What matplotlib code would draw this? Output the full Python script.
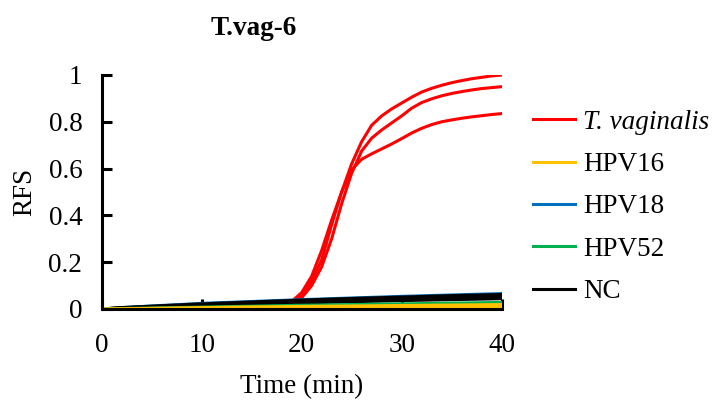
import numpy as np
import matplotlib.pyplot as plt
from matplotlib.lines import Line2D

plt.rcParams['font.family'] = ['Liberation Serif', 'DejaVu Serif']

# ====== data ======
t_pos = list(range(0, 41))
tvag_1 = [0, 0.001, 0.001, 0.002, 0.002, 0.003, 0.003, 0.004, 0.004, 0.005,
          0.005, 0.006, 0.007, 0.008, 0.009, 0.010, 0.012, 0.015, 0.020,
          0.032, 0.070, 0.14, 0.25, 0.38, 0.50, 0.62, 0.715, 0.785, 0.825, 0.855,
          0.88, 0.905, 0.927, 0.943, 0.956, 0.967, 0.976, 0.984, 0.99, 0.996, 1.0]
tvag_2 = [0, 0.001, 0.001, 0.002, 0.002, 0.003, 0.003, 0.004, 0.004, 0.005,
          0.005, 0.006, 0.007, 0.008, 0.009, 0.010, 0.012, 0.014, 0.018,
          0.026, 0.048, 0.10, 0.18, 0.30, 0.45, 0.58, 0.675, 0.73, 0.765, 0.795,
          0.825, 0.858, 0.882, 0.898, 0.911, 0.921, 0.929, 0.936, 0.942, 0.946, 0.95]
tvag_3 = [0, 0.001, 0.001, 0.002, 0.002, 0.003, 0.003, 0.004, 0.004, 0.005,
          0.005, 0.006, 0.007, 0.008, 0.009, 0.010, 0.012, 0.015, 0.019,
          0.029, 0.058, 0.12, 0.21, 0.36, 0.50, 0.595, 0.64, 0.663, 0.684, 0.705,
          0.728, 0.752, 0.772, 0.788, 0.80, 0.808, 0.815, 0.821, 0.826, 0.831, 0.835]

t_neg = [0, 2, 5, 10, 15, 20, 25, 30, 35, 40]
hpv18 = [0, 0.006, 0.013, 0.024, 0.032, 0.040, 0.047, 0.054, 0.060, 0.066]
nc_1 = [0, 0.006, 0.012, 0.022, 0.030, 0.038, 0.045, 0.051, 0.057, 0.062]
nc_2 = [0, 0.005, 0.010, 0.018, 0.025, 0.032, 0.038, 0.044, 0.049, 0.054]
nc_3 = [0, 0.004, 0.008, 0.014, 0.020, 0.026, 0.031, 0.036, 0.040, 0.044]
hpv52 = [0, 0.002, 0.004, 0.008, 0.012, 0.016, 0.019, 0.022, 0.025, 0.028]
hpv16_1 = [0, 0.001, 0.003, 0.006, 0.009, 0.011, 0.013, 0.015, 0.017, 0.019]
hpv16_2 = [0, 0.000, 0.001, 0.003, 0.005, 0.006, 0.008, 0.009, 0.010, 0.011]

RED = '#FF0000'
YEL = '#FFC000'
BLU = '#0070C0'
GRN = '#00B050'
BLK = '#000000'

# ====== figure ======
fig = plt.figure(figsize=(7.14, 4.0), dpi=100)
ax = fig.add_axes([0.1425, 0.2275, 0.56, 0.585])

lw = 2.2
ax.plot(t_pos, tvag_1, color=RED, lw=lw)
ax.plot(t_pos, tvag_2, color=RED, lw=lw)
ax.plot(t_pos, tvag_3, color=RED, lw=lw)
ax.plot(t_neg, hpv18, color=BLU, lw=lw)
ax.plot(t_neg, nc_1, color=BLK, lw=lw)
ax.plot(t_neg, nc_2, color=BLK, lw=lw)
ax.plot(t_neg, nc_3, color=BLK, lw=lw)
ax.plot(t_neg, hpv52, color=GRN, lw=lw)
ax.plot(t_neg, hpv16_1, color=YEL, lw=lw)
ax.plot(t_neg, hpv16_2, color=YEL, lw=lw)

ax.set_xlim(0, 40)
ax.set_ylim(0, 1)
ax.set_xticks([0, 10, 20, 30, 40])
ax.set_yticks([0, 0.2, 0.4, 0.6, 0.8, 1.0])
ax.set_yticklabels(['0', '0.2', '0.4', '0.6', '0.8', '1'])
for s in ['top', 'right']:
    ax.spines[s].set_visible(False)
for s in ['left', 'bottom']:
    ax.spines[s].set_linewidth(2.2)
ax.tick_params(direction='in', length=7.5, width=2.2, labelsize=19.5)
ax.tick_params(axis='x', pad=17)
ax.tick_params(axis='y', pad=14)

ax.set_xlabel('Time (min)', fontsize=19.5, labelpad=12)
ax.set_ylabel('RFS', fontsize=19.5, labelpad=8)

fig.text(0.356, 0.9125, 'T.vag-6', fontsize=19.5, fontweight='bold',
         ha='center', va='baseline')

# ====== legend ======
handles = [Line2D([], [], color=c, lw=2.2) for c in [RED, YEL, BLU, GRN, BLK]]
leg = fig.legend(handles, ['T. vaginalis', 'HPV16', 'HPV18', 'HPV52', 'NC'],
                 loc='center left', bbox_to_anchor=(533 / 714, 1 - 207 / 400),
                 frameon=False, fontsize=19.5, handlelength=1.55,
                 handletextpad=0.3, labelspacing=0.64, borderpad=0,
                 borderaxespad=0)
leg.get_texts()[0].set_fontstyle('italic')

fig.savefig('out.png', dpi=100)
